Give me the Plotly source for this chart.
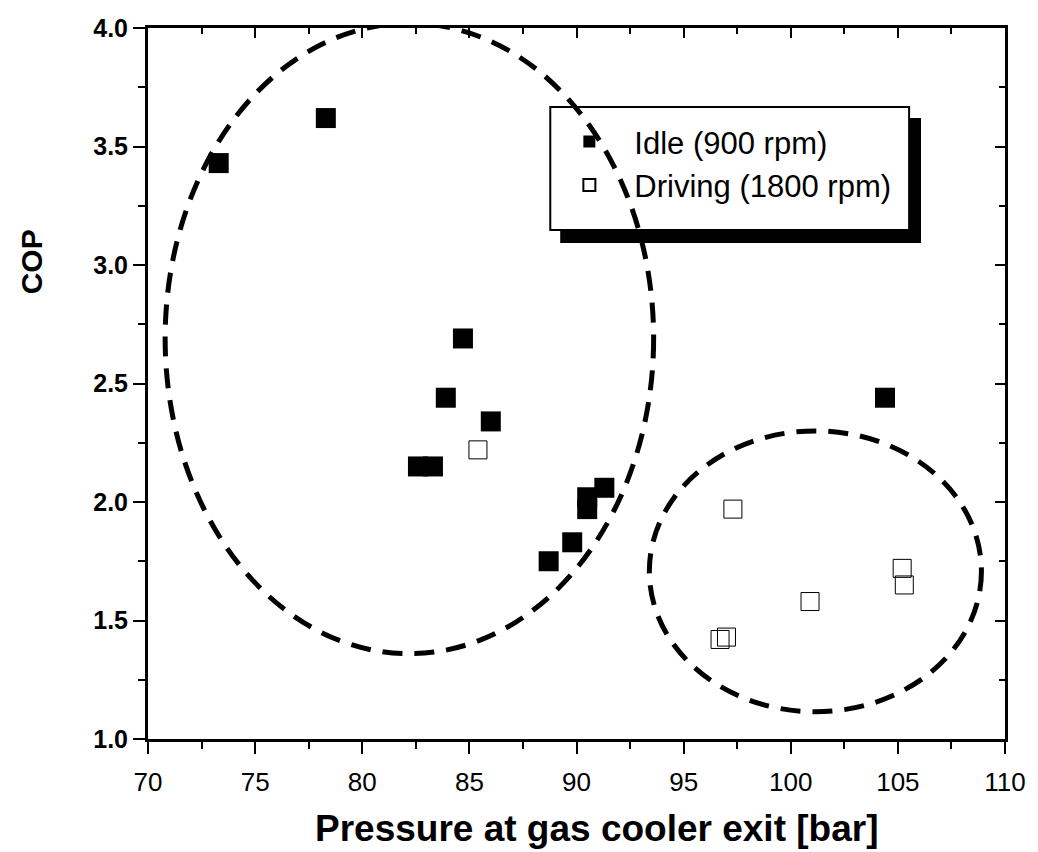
import plotly.graph_objects as go

# ---- data ----
idle_pressure = [73.3, 78.3, 84.7, 83.9, 86.0, 82.6, 83.3, 88.7, 89.8, 90.5, 90.5, 91.3, 104.4]
idle_cop      = [3.43, 3.62, 2.69, 2.44, 2.34, 2.15, 2.15, 1.75, 1.83, 2.02, 1.97, 2.06, 2.44]

driving_pressure = [85.4, 97.3, 105.2, 105.3, 100.9, 97.0, 96.7]
driving_cop      = [2.22, 1.97, 1.72, 1.65, 1.58, 1.43, 1.42]

# cluster ellipses (x0, x1, y0, y1) in data units
ellipse_left  = [70.8, 93.6, 1.36, 4.02]
ellipse_right = [93.4, 108.9, 1.115, 2.30]

x_ticks = [70, 75, 80, 85, 90, 95, 100, 105, 110]
y_ticks = [1.0, 1.5, 2.0, 2.5, 3.0, 3.5, 4.0]

FONT = "Liberation Sans, Arial, sans-serif"

fig = go.Figure()
fig.add_trace(go.Scatter(
    x=idle_pressure, y=idle_cop, mode="markers", name="Idle (900 rpm)",
    marker=dict(symbol="square", size=20, color="black", line=dict(color="black", width=0)),
))
fig.add_trace(go.Scatter(
    x=driving_pressure, y=driving_cop, mode="markers", name="Driving (1800 rpm)",
    marker=dict(symbol="square-open", size=18, color="black", line=dict(color="black", width=1)),
))

# legend shadow and box (legend itself is transparent and sits on top)
fig.add_shape(type="rect", xref="paper", yref="paper",
              x0=0.481, x1=0.902, y0=0.6976, y1=0.8734,
              fillcolor="black", line=dict(width=0), layer="above")
fig.add_shape(type="rect", xref="paper", yref="paper",
              x0=0.4694, x1=0.8881, y0=0.7159, y1=0.8889,
              fillcolor="white", line=dict(color="black", width=2), layer="above")

for e in (ellipse_left, ellipse_right):
    fig.add_shape(type="circle", xref="x", yref="y",
                  x0=e[0], x1=e[1], y0=e[2], y1=e[3],
                  line=dict(color="black", width=5, dash="20px,12px"), layer="above")

axis_common = dict(showline=True, linecolor="black", linewidth=3, showgrid=False,
                   zeroline=False, ticks="outside", ticklen=12, tickwidth=2, tickcolor="black")

fig.update_layout(
    width=1038, height=852,
    margin=dict(l=148, r=23, t=28, b=113),
    paper_bgcolor="white", plot_bgcolor="white",
    font=dict(family=FONT, color="black"),
    xaxis=dict(range=[70, 110], tickvals=x_ticks, ticktext=[str(v) for v in x_ticks],
               tickfont=dict(size=26, family=FONT), **axis_common, ticklabelstandoff=6,
               minor=dict(ticks="outside", ticklen=7, tickwidth=2, dtick=2.5, tickcolor="black")),
    yaxis=dict(range=[1, 4], tickvals=y_ticks, ticktext=["<b>%.1f</b>" % v for v in y_ticks],
               tickfont=dict(size=25, family=FONT), **axis_common,
               minor=dict(ticks="outside", ticklen=7, tickwidth=2, dtick=0.25, tickcolor="black")),
    xaxis2=dict(overlaying="x", side="top", range=[70, 110], tickvals=x_ticks, showticklabels=False,
                showline=True, linecolor="black", linewidth=3, showgrid=False, zeroline=False,
                ticks="inside", ticklen=10, tickwidth=2, tickcolor="black",
                minor=dict(ticks="inside", ticklen=6, tickwidth=2, dtick=2.5, tickcolor="black")),
    yaxis2=dict(overlaying="y", side="right", range=[1, 4], tickvals=y_ticks, showticklabels=False,
                showline=True, linecolor="black", linewidth=3, showgrid=False, zeroline=False,
                ticks="inside", ticklen=10, tickwidth=2, tickcolor="black",
                minor=dict(ticks="inside", ticklen=6, tickwidth=2, dtick=0.25, tickcolor="black")),
    legend=dict(x=0.4625, y=0.8777, xanchor="left", yanchor="top",
                bgcolor="rgba(0,0,0,0)", borderwidth=0, itemwidth=80,
                font=dict(size=31, family=FONT), itemsizing="constant",
                tracegroupgap=0),
    showlegend=True,
    annotations=[
        dict(text="<b>COP</b>", xref="paper", yref="paper", x=-0.136, y=0.671,
             textangle=-90, showarrow=False, font=dict(size=30, family=FONT),
             xanchor="center", yanchor="middle"),
        dict(text="<b>Pressure at gas cooler exit [bar]</b>", xref="paper", yref="paper",
             x=0.5236, y=-0.1252, showarrow=False, font=dict(size=37, family=FONT),
             xanchor="center", yanchor="middle"),
    ],
)
# invisible trace so the mirrored (top/right) axes are drawn
fig.add_trace(go.Scatter(x=[None], y=[None], xaxis="x2", yaxis="y2", showlegend=False, hoverinfo="skip"))

fig.write_html("out.html",
               config={"displayModeBar": False},
               post_script="document.body.style.margin='0';document.body.style.overflow='hidden';")
